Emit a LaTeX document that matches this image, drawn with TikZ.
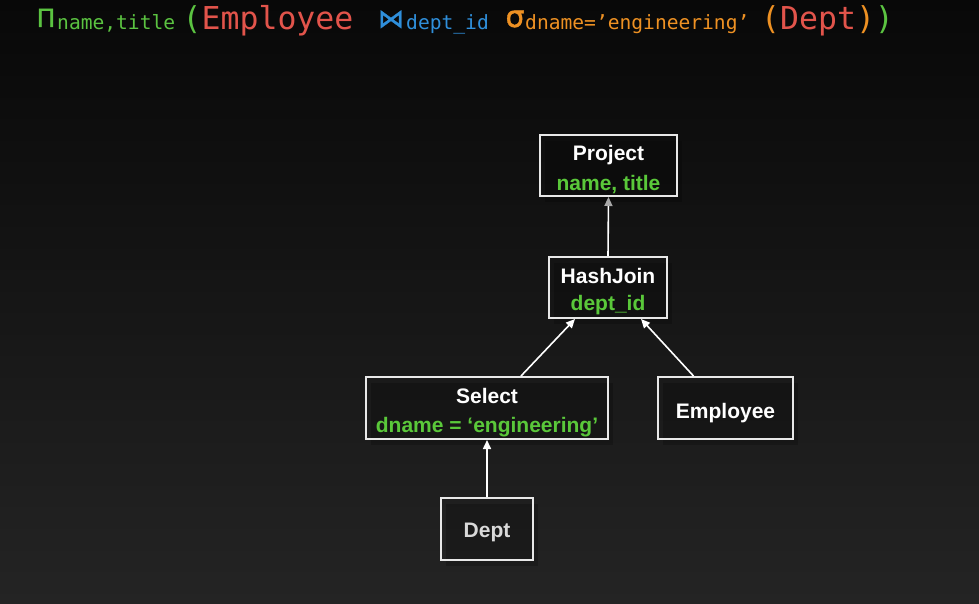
\documentclass[tikz,border=0pt]{standalone}
\usepackage{fontspec}
\setmainfont{Liberation Sans}
\newfontfamily\monof{DejaVu Sans Mono}
\newfontfamily\symf[FakeBold=1.2]{DejaVu Sans}
\usetikzlibrary{arrows.meta,shadows,calc}
\definecolor{bgtop}{HTML}{080808}
\definecolor{bgbot}{HTML}{242424}
\definecolor{boxline}{HTML}{E8E8E8}
\definecolor{fgreen}{HTML}{5BC341}
\definecolor{fred}{HTML}{E2544B}
\definecolor{fblue}{HTML}{2F8FDB}
\definecolor{forange}{HTML}{EE9123}
\definecolor{ngreen}{HTML}{5AC83A}
\definecolor{tipgray}{HTML}{A8A8A8}
\begin{document}
\begin{tikzpicture}[x=1pt,y=-1pt,
  box/.style={draw=boxline,line width=2pt,inner sep=0pt,
    drop shadow={shadow xshift=5pt,shadow yshift=-6pt,opacity=0.2,fill=black}},
  lbl/.style={anchor=base,inner sep=0pt,text=white,font=\bfseries\fontsize{21}{21}\selectfont},
  glbl/.style={lbl,text=ngreen},
  big/.style={anchor=base west,inner sep=0pt,font=\monof\fontsize{31.5}{32}\selectfont},
  small/.style={anchor=base west,inner sep=0pt,font=\monof\fontsize{19.6}{20}\selectfont},
  sym/.style={anchor=base,inner sep=0pt,font=\symf\fontsize{26}{26}\selectfont},
  link/.style={draw=white,line width=1.6pt,-{Triangle[length=9pt,width=8pt]}},
  glink/.style={draw=white,line width=1.6pt,-{Triangle[length=9pt,width=8pt,color=tipgray]}}]
\useasboundingbox (0,0) rectangle (979,604);
\shade[top color=bgtop,bottom color=bgbot] (0,0) rectangle (979,604);

% formula
\node[sym,text=fgreen,font=\symf\fontsize{25}{25}\selectfont] (pi) at (46,27) {Π};
\node[small,text=fgreen] (pisub) at (57,30) {name,title};
\node[big] (emp1) at (182.5,30) {\color{fgreen}(\color{fred}Employee};
\node[sym,text=fblue] (join) at (391,27.5) {⋈};
\node[small,text=fblue] (joinsub) at (406,30) {dept\_id};
\node[sym,text=forange,font=\symf\fontsize{30}{30}\selectfont] (sig) at (515,27) {σ};
\node[small,text=forange] (sigsub) at (525,30) {dname=’engineering’};
\node[big] (dept1) at (761,30) {\color{forange}(\color{fred}Dept\color{forange})\color{fgreen})};

% boxes
\node[box,minimum width=137pt,minimum height=61pt] (proj) at (608.5,165.5) {};
\node[box,minimum width=118pt,minimum height=61pt] (hj) at (608,287.5) {};
\node[box,minimum width=242pt,minimum height=62pt] (sel) at (487,408) {};
\node[box,minimum width=135pt,minimum height=62pt] (emp) at (725.5,408) {};
\node[box,minimum width=92pt,minimum height=62pt] (dept) at (487,529) {};

% labels
\node[lbl] (projt) at (608.5,161) {Project};
\node[glbl] (projs) at (608.5,190) {name, title};
\node[lbl] (hjt) at (608,283) {HashJoin};
\node[glbl] (hjs) at (608,310) {dept\_id};
\node[lbl] (selt) at (487,403) {Select};
\node[glbl] (sels) at (487,432) {dname = ‘engineering’};
\node[lbl] (empt) at (725.5,418) {Employee};
\node[lbl,text=white!85!black] (deptt) at (487,537) {Dept};

% connectors
\draw[link] (dept.north) -- (sel.south);
\draw[link] ([xshift=34pt]sel.north) -- ([xshift=-33pt]hj.south);
\draw[link] ([xshift=-32pt]emp.north) -- ([xshift=33pt]hj.south);
\draw[glink] (hj.north) -- (proj.south);
\end{tikzpicture}
\end{document}
